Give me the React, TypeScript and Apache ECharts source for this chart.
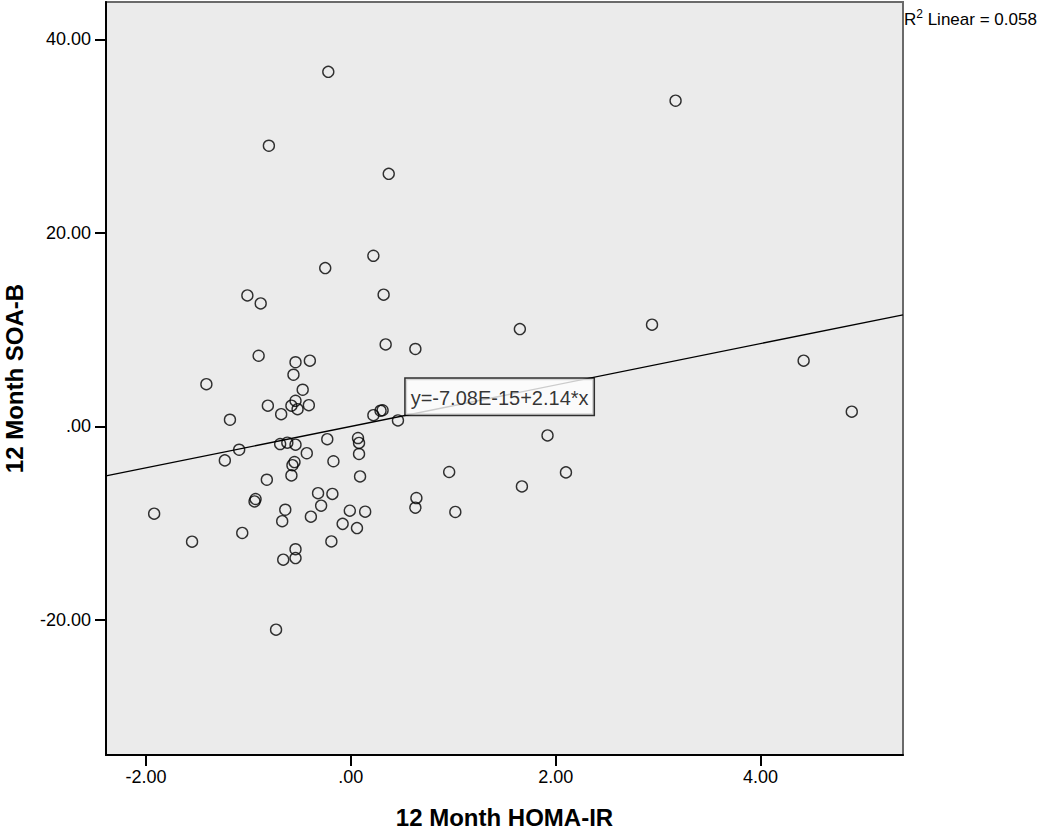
import React, { useEffect, useRef } from "react";
import * as echarts from "echarts";

// 12 Month HOMA-IR (x) and 12 Month SOA-B (y) residual values
const homaIR = [
  -0.22, 3.17, -0.8, 0.37, 0.22, -0.25, 0.32, -1.01, -0.88, 1.65,
  2.94, 0.34, 0.63, -0.9, -0.54, -0.4, 4.42, -0.56, -1.41, -0.47,
  -0.81, -0.41, -0.58, -0.54, -0.52, -0.68, -1.18, 4.89, 0.22, 0.29,
  0.31, 0.46, -0.23, 0.07, 0.08, 1.92, -1.09, -1.23, -0.69, -0.62,
  -0.54, -0.43, -0.17, 0.08, -0.55, -0.57, -0.58, 0.09, 0.96, 2.1,
  -0.82, 1.67, 0.64, 0.63, -0.93, -0.94, -1.92, -0.32, -0.18, -0.29,
  -0.39, -0.64, -0.67, -0.01, 0.14, 1.02, -0.08, 0.06, -1.06, -1.55,
  -0.19, -0.54, -0.54, -0.66, -0.73,
];
const soaB = [
  36.64, 33.65, 29.0, 26.1, 17.63, 16.36, 13.61, 13.53, 12.71, 10.06,
  10.51, 8.47, 8.0, 7.3, 6.63, 6.79, 6.79, 5.34, 4.36, 3.79,
  2.14, 2.19, 2.14, 2.65, 1.78, 1.26, 0.69, 1.52, 1.16, 1.62,
  1.67, 0.62, -1.32, -1.2, -1.71, -0.93, -2.41, -3.51, -1.82, -1.68,
  -1.89, -2.77, -3.6, -2.85, -3.68, -4.01, -5.06, -5.17, -4.71, -4.75,
  -5.51, -6.2, -7.4, -8.4, -7.5, -7.75, -9.02, -6.9, -6.98, -8.19,
  -9.33, -8.61, -9.79, -8.71, -8.81, -8.84, -10.07, -10.5, -11.01, -11.91,
  -11.88, -12.69, -13.6, -13.77, -21.0,
];

const xTicks = [-2, 0, 2, 4];
const xTickLabels = ["-2.00", ".00", "2.00", "4.00"];
const yTicks = [-20, 0, 20, 40];
const yTickLabels = ["-20.00", ".00", "20.00", "40.00"];

const xRange = [-2.39, 5.39];
const yRange = [-33.95, 43.85];

const intercept = -7.08e-15;
const slope = 2.14;
const equationText = "y=-7.08E-15+2.14*x";
const equationAnchorX = 0.54;
const r2Text = "0.058";

const FONT = "'Liberation Sans', Arial, Helvetica, sans-serif";

export default function App() {
  const ref = useRef<HTMLDivElement>(null);

  useEffect(() => {
    if (!ref.current) return;
    const chart = echarts.init(ref.current, undefined, { renderer: "svg" });

    const points = homaIR.map((x, i) => [x, soaB[i]]);
    const fitLine = xRange.map((x) => [x, intercept + slope * x]);

    const fmt = (labels: string[], ticks: number[]) => (v: number) => {
      const i = ticks.findIndex((t) => Math.abs(t - v) < 1e-9);
      return i >= 0 ? labels[i] : "";
    };

    chart.setOption({
      animation: false,
      textStyle: { fontFamily: FONT },
      grid: {
        left: 106,
        right: 147,
        top: 2,
        bottom: 74,
        show: true,
        backgroundColor: "#ebebeb",
        borderColor: "#6a6a6a",
        borderWidth: 2,
        outerBoundsMode: "none",
      },
      xAxis: {
        type: "value",
        min: xRange[0],
        max: xRange[1],
        name: "12 Month HOMA-IR",
        nameLocation: "middle",
        nameGap: 50,
        nameTextStyle: { fontSize: 24, lineHeight: 24, fontWeight: "bold", color: "#000", fontFamily: FONT },
        axisLine: { show: true, onZero: false, lineStyle: { color: "#000", width: 2 } },
        axisTick: { show: true, length: 11, lineStyle: { color: "#000", width: 2 }, customValues: xTicks },
        axisLabel: {
          show: true,
          customValues: xTicks,
          formatter: fmt(xTickLabels, xTicks),
          fontSize: 18,
          color: "#000",
          margin: 13,
          fontFamily: FONT,
        },
        splitLine: { show: false },
      },
      yAxis: {
        type: "value",
        min: yRange[0],
        max: yRange[1],
        name: "12 Month SOA-B",
        nameLocation: "middle",
        nameRotate: 90,
        nameGap: 80,
        nameTextStyle: { fontSize: 24, lineHeight: 24, fontWeight: "bold", color: "#000", fontFamily: FONT },
        axisLine: { show: true, onZero: false, lineStyle: { color: "#000", width: 2 } },
        axisTick: { show: true, length: 11, lineStyle: { color: "#000", width: 2 }, customValues: yTicks },
        axisLabel: {
          show: true,
          customValues: yTicks,
          formatter: fmt(yTickLabels, yTicks),
          fontSize: 18,
          color: "#000",
          margin: 15,
          fontFamily: FONT,
        },
        splitLine: { show: false },
      },
      series: [
        {
          type: "line",
          data: fitLine,
          symbol: "none",
          silent: true,
          lineStyle: { color: "#000", width: 1.3 },
          z: 2,
        },
        {
          type: "scatter",
          data: points,
          symbol: "circle",
          symbolSize: 11,
          itemStyle: { color: "rgba(0,0,0,0)", borderColor: "#000", borderWidth: 1.4 },
          z: 3,
        },
        {
          type: "scatter",
          data: [[equationAnchorX, intercept + slope * equationAnchorX]],
          symbolSize: 1,
          silent: true,
          itemStyle: { color: "rgba(0,0,0,0)" },
          z: 5,
          label: {
            show: true,
            formatter: equationText,
            position: [0, 0],
            align: "left",
            verticalAlign: "bottom",
            fontSize: 20,
            color: "#000",
            fontFamily: FONT,
            backgroundColor: "#fff",
            borderColor: "#000",
            borderWidth: 1.5,
            padding: [9, 5, 7, 5],
          },
        },
      ],
      graphic: [
        {
          type: "text",
          left: 904,
          top: 8,
          style: {
            text: "{a|R}{s|2}{a| Linear = " + r2Text + "}",
            fontFamily: FONT,
            rich: {
              a: { fontSize: 17, color: "#000", fontFamily: FONT, verticalAlign: "bottom", lineHeight: 20 },
              s: { fontSize: 12, color: "#000", fontFamily: FONT, verticalAlign: "top", lineHeight: 20 },
            },
          },
        },
      ],
    });

    return () => chart.dispose();
  }, []);

  return (
    <div
      ref={ref}
      style={{ position: "fixed", left: 0, top: 0, width: 1050, height: 829, background: "#fff" }}
    />
  );
}
